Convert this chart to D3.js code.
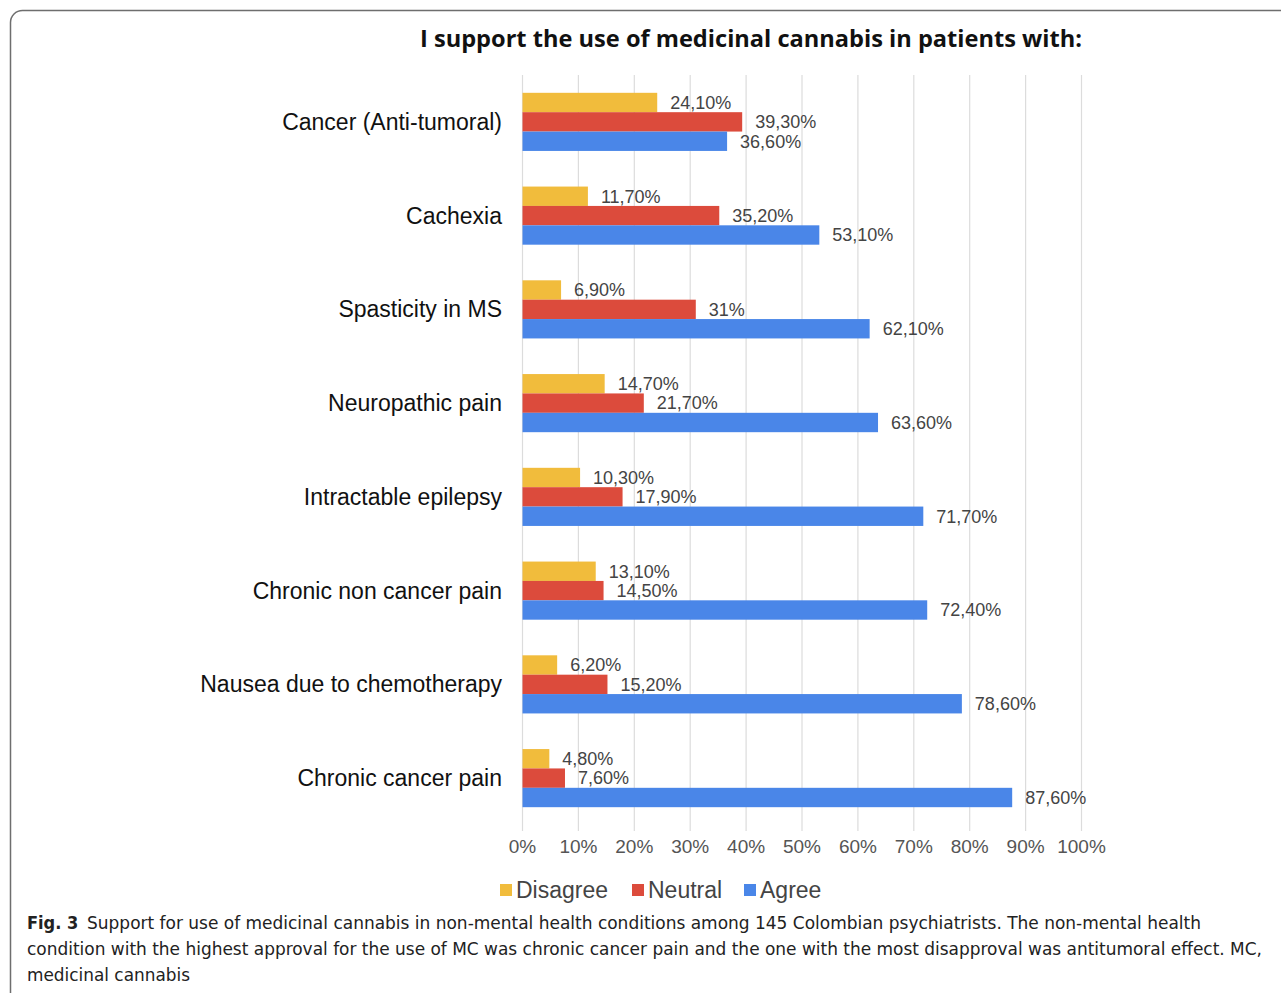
<!DOCTYPE html>
<html>
<head>
<meta charset="utf-8">
<script src="https://cdn.jsdelivr.net/npm/d3@7"></script>
<style>
  html, body { margin: 0; padding: 0; background: #fff; }
  svg { display: block; }
</style>
</head>
<body>
<script>
// Survey categories, top to bottom
const categories = [
  "Cancer (Anti-tumoral)",
  "Cachexia",
  "Spasticity in MS",
  "Neuropathic pain",
  "Intractable epilepsy",
  "Chronic non cancer pain",
  "Nausea due to chemotherapy",
  "Chronic cancer pain"
];
// Percentages per response
const disagree = [24.1, 11.7, 6.9, 14.7, 10.3, 13.1, 6.2, 4.8];
const neutral  = [39.3, 35.2, 31.0, 21.7, 17.9, 14.5, 15.2, 7.6];
const agree    = [36.6, 53.1, 62.1, 63.6, 71.7, 72.4, 78.6, 87.6];
const seriesNames = ["Disagree", "Neutral", "Agree"];
const xTicks = [0, 10, 20, 30, 40, 50, 60, 70, 80, 90, 100];

const title = "I support the use of medicinal cannabis in patients with:";
const captionLines = [
  "Support for use of medicinal cannabis in non-mental health conditions among 145 Colombian psychiatrists. The non-mental health",
  "condition with the highest approval for the use of MC was chronic cancer pain and the one with the most disapproval was antitumoral effect. MC,",
  "medicinal cannabis"
];

const W = 1281, H = 993;
const colors = { Disagree: "#f1bc3c", Neutral: "#dc4b3c", Agree: "#4a86e8" };
const chartFont = "'Liberation Sans', Arial, sans-serif";

const svg = d3.select("body").append("svg").attr("width", W).attr("height", H);

// Figure frame
svg.append("rect")
  .attr("x", 10.5).attr("y", 10.5)
  .attr("width", 1300).attr("height", 1100)
  .attr("rx", 12).attr("ry", 12)
  .attr("fill", "none").attr("stroke", "#6e6e6e").attr("stroke-width", 1.5);

const plot = { left: 522.5, right: 1081.5, top: 75, bottom: 825 };

const x = d3.scaleLinear().domain([0, 100]).range([plot.left, plot.right]);
const y = d3.scaleBand().domain(categories).range([plot.top, plot.bottom])
  .paddingInner(0.38).paddingOuter(0.19);
const ySub = d3.scaleBand().domain(seriesNames).range([0, y.bandwidth()]);

// Vertical gridlines
svg.append("g")
  .selectAll("line").data(xTicks).join("line")
  .attr("x1", d => x(d)).attr("x2", d => x(d))
  .attr("y1", plot.top).attr("y2", plot.bottom + 6)
  .attr("stroke", "#dcdcdc").attr("stroke-width", 1.2);

// Title
svg.append("text")
  .attr("x", 751).attr("y", 47)
  .attr("text-anchor", "middle")
  .attr("font-family", "'Open Sans', sans-serif")
  .attr("font-weight", 700)
  .attr("font-size", 24)
  .attr("textLength", 662).attr("lengthAdjust", "spacingAndGlyphs")
  .attr("fill", "#111")
  .text(title);

// Bars
const rows = categories.map((c, i) => ({
  cat: c,
  vals: [
    { s: "Disagree", v: disagree[i] },
    { s: "Neutral", v: neutral[i] },
    { s: "Agree", v: agree[i] }
  ]
}));

const fmt = v => (Number.isInteger(v) ? v : v.toFixed(2).replace(".", ",")) + "%";

const groups = svg.append("g").selectAll("g").data(rows).join("g")
  .attr("transform", d => `translate(0,${y(d.cat)})`);

groups.selectAll("rect").data(d => d.vals).join("rect")
  .attr("x", x(0))
  .attr("y", d => ySub(d.s))
  .attr("width", d => x(d.v) - x(0))
  .attr("height", ySub.bandwidth())
  .attr("fill", d => colors[d.s]);

groups.selectAll("text.val").data(d => d.vals).join("text")
  .attr("class", "val")
  .attr("x", d => x(d.v) + 13)
  .attr("y", d => ySub(d.s) + ySub.bandwidth() / 2)
  .attr("dy", "0.35em")
  .attr("font-family", chartFont)
  .attr("font-size", 18)
  .attr("fill", "#444")
  .text(d => fmt(d.v));

// Category labels
svg.append("g").selectAll("text").data(categories).join("text")
  .attr("x", 502)
  .attr("y", d => y(d) + y.bandwidth() / 2)
  .attr("dy", "0.35em")
  .attr("text-anchor", "end")
  .attr("font-family", chartFont)
  .attr("font-size", 23)
  .attr("fill", "#111")
  .text(d => d);

// X axis tick labels
svg.append("g").selectAll("text").data(xTicks).join("text")
  .attr("x", d => x(d))
  .attr("y", 846)
  .attr("dy", "0.35em")
  .attr("text-anchor", "middle")
  .attr("font-family", chartFont)
  .attr("font-size", 19)
  .attr("fill", "#555")
  .text(d => d + "%");

// Legend
const legendX = [500, 632, 744];
const legend = svg.append("g").selectAll("g").data(seriesNames).join("g")
  .attr("transform", (d, i) => `translate(${legendX[i]},890)`);
legend.append("rect")
  .attr("x", 0).attr("y", -6).attr("width", 12).attr("height", 12)
  .attr("fill", d => colors[d]);
legend.append("text")
  .attr("x", 16).attr("y", 0).attr("dy", "0.35em")
  .attr("font-family", chartFont)
  .attr("font-size", 23)
  .attr("fill", "#444")
  .text(d => d);

// Caption
const capFont = "'DejaVu Sans Condensed', 'Open Sans', sans-serif";
const cap = svg.append("g").attr("font-family", capFont).attr("font-size", 18).attr("fill", "#222");
const first = cap.append("text").attr("x", 27).attr("y", 929);
first.append("tspan").attr("font-weight", 700).text("Fig. 3");
cap.append("text").attr("x", 87).attr("y", 929)
  .attr("textLength", 1114).attr("lengthAdjust", "spacingAndGlyphs")
  .text(captionLines[0]);
cap.append("text").attr("x", 27).attr("y", 955)
  .attr("textLength", 1235).attr("lengthAdjust", "spacingAndGlyphs")
  .text(captionLines[1]);
cap.append("text").attr("x", 27).attr("y", 981)
  .attr("textLength", 163).attr("lengthAdjust", "spacingAndGlyphs")
  .text(captionLines[2]);
</script>
</body>
</html>
